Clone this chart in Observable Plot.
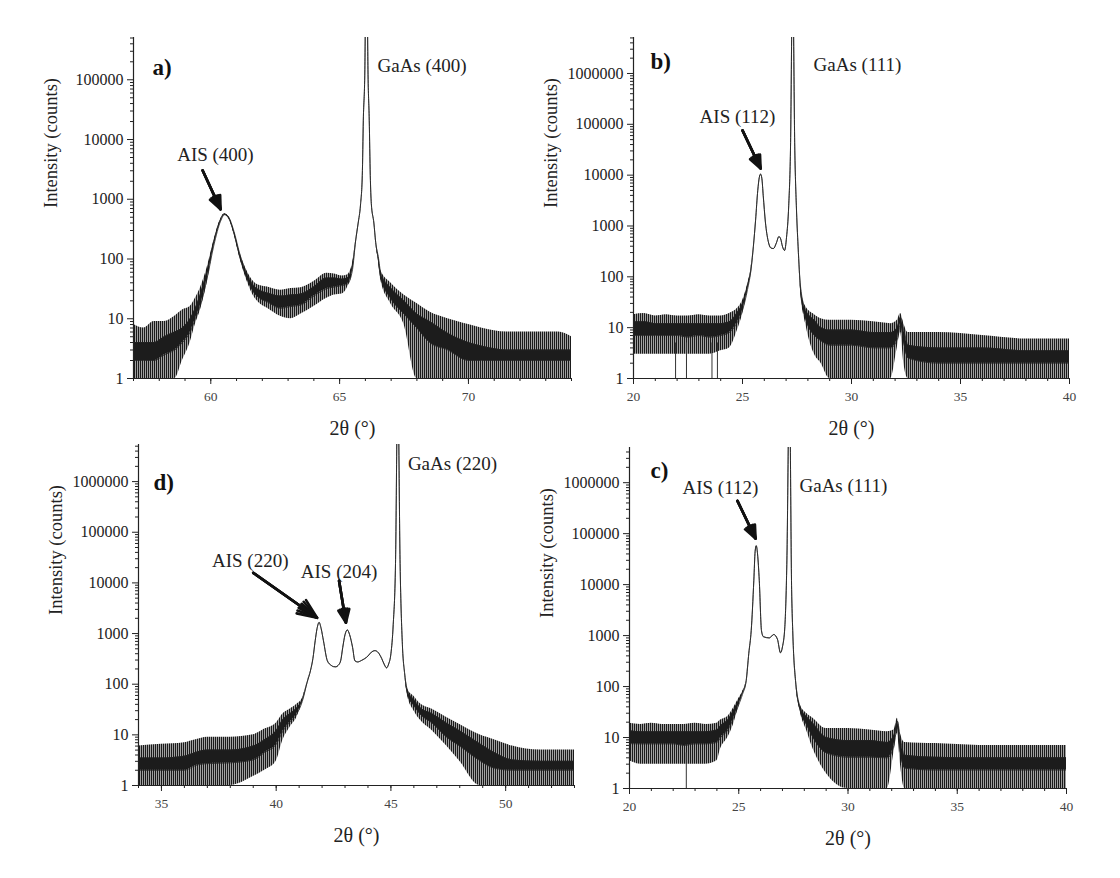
<!DOCTYPE html>
<html><head><meta charset="utf-8">
<script src="https://cdn.jsdelivr.net/npm/d3@7"></script>
<script src="https://cdn.jsdelivr.net/npm/@observablehq/plot@0.6"></script>
<style>
body{margin:0;background:#fff;}
#wrap{position:relative;width:1120px;height:878px;background:#fff;overflow:hidden;}
.panel{position:absolute;}
</style></head><body>
<svg width="0" height="0" style="position:absolute"><defs>
<pattern id="noise" patternUnits="userSpaceOnUse" width="2" height="8">
<rect x="0" y="0" width="1" height="8" fill="#1a1a1a"/>
<rect x="1" y="0" width="1" height="8" fill="#a0a0a0"/>
</pattern></defs></svg>
<div id="wrap"></div>
<script>
// ---------- Panel a) : 2θ scan around GaAs (400) ----------
const aX     = [57.0,57.4,57.8,58.2,58.6,58.9,59.2,59.4,59.6,59.86,60.12,60.38,60.53,60.7,60.88,61.15,61.43,61.66,61.9,62.2,62.7,63.1,63.5,64.0,64.5,64.8,65.1,65.3,65.5,65.62,65.72,65.81,65.88,65.92,65.98,66.04,66.10,66.15,66.19,66.23,66.33,66.4,66.5,66.6,66.98,67.5,68.0,68.5,69.2,70.0,70.5,71.5,72.5,73.5,74.0];
const aMin   = [1,1,1,1,1,2,4,8,14,40,160,420,545,470,280,95,40,24,18,15,11,10,12,16,22,25,26,33,60,200,400,800,2500,21000,150000,1e8,150000,21000,2500,850,400,190,95,44,18,8,1,1,1,1,1,1,1,1,1];
const aLo    = [2,2,2,2.5,3,4,6,10,17,48,170,430,550,480,290,100,44,28,22,19,15,16,17,24,32,34,36,38,66,200,400,800,2500,21000,150000,1e8,150000,21000,2500,850,400,190,100,48,22,12,7,4,3,2,2,2,2,2,2];
const aHi    = [4,4,4,5,6,7,10,15,26,64,195,455,566,500,310,112,54,36,30,27,24,25,26,34,48,48,46,48,78,200,400,800,2500,21000,150000,1e8,150000,21000,2500,850,400,190,110,58,33,20,12,9,5.7,4,3.5,3,3,3,3];
const aMax   = [8,7,9,9,11,14,16,22,33,72,205,465,572,510,320,120,60,42,36,34,30,32,33,42,58,56,52,54,84,200,400,800,2500,21000,150000,1e8,150000,21000,2500,850,400,190,115,64,40,25,18,13,10,8,7,6,6,6,5];
const aNoteText = ["a)", "GaAs (400)", "AIS (400)"];
const aNoteX    = [57.74, 66.47, 60.18];
const aNoteY    = [1.6e5, 1.68e5, 5430];
const aArrX1 = [59.68], aArrY1 = [3050], aArrX2 = [60.38], aArrY2 = [677];

// ---------- Panel b) : GaAs (111) region ----------
const bX     = [20.0,20.5,21.0,21.5,22.0,22.5,23.0,23.5,24.0,24.4,24.77,25.0,25.23,25.4,25.5,25.6,25.7,25.77,25.83,25.89,25.95,26.05,26.18,26.3,26.42,26.55,26.67,26.75,26.83,26.93,27.02,27.12,27.2,27.3,27.4,27.47,27.55,27.66,27.9,28.3,28.6,29.0,30.0,31.0,31.8,32.1,32.25,32.4,32.6,34.0,36.0,38.0,40.0];
const bMin   = [3,3,3,3,3,3,3,3,3.5,4,9,18,52,145,400,1300,5000,9000,10500,8500,4000,1200,500,370,360,460,620,560,400,330,600,2500,30000,1e8,30000,2500,400,55,12,3,2,1,1,1,1,4,8,2,1,1,1,1,1];
const bLo    = [7,7,7,7,7,6.5,7,6.5,7,8,13,22,56,148,400,1300,5000,9000,10500,8500,4000,1200,500,370,360,460,620,560,400,330,600,2500,30000,1e8,30000,2500,400,58,15,7,5.5,4.5,4.5,4,4,6,12,5,2.5,2,2,2,2];
const bHi    = [13,13,12,12,12,12,12,12,12,13,20,30,66,155,400,1300,5000,9000,10500,8500,4000,1200,500,370,360,460,620,560,400,330,600,2500,30000,1e8,30000,2500,400,66,22,14,10,9,9,8,8,10,16,9,4.5,4,4,3.5,3.5];
const bMax   = [18,19,17,18,17,17,18,17,17,19,24,34,70,158,400,1300,5000,9000,10500,8500,4000,1200,500,370,360,460,620,560,400,330,600,2500,30000,1e8,30000,2500,400,70,26,18,15,14,14,13,12,14,19,12,8,8,7,6,6];
const bSpikeX = [21.93, 22.43, 23.6, 23.85];
const bNoteText = ["b)", "GaAs (111)", "AIS (112)"];
const bNoteX    = [20.78, 28.26, 24.77];
const bNoteY    = [1.74e6, 1.5e6, 1.37e5];
const bArrX1 = [25.0], bArrY1 = [7.6e4], bArrX2 = [25.83], bArrY2 = [1.35e4];

// ---------- Panel d) : GaAs (220) region ----------
const dX     = [34.0,35.0,36.0,36.5,37.0,38.0,39.0,39.5,40.0,40.3,40.6,40.9,41.14,41.35,41.5,41.6,41.7,41.78,41.87,41.96,42.06,42.23,42.4,42.5,42.6,42.7,42.81,42.9,43.0,43.1,43.2,43.33,43.43,43.55,43.72,44.0,44.15,44.3,44.45,44.6,44.72,44.81,44.9,45.0,45.1,45.2,45.3,45.4,45.5,45.6,45.74,46.0,46.26,46.8,47.43,48.0,48.87,49.5,50.3,51.5,53.0];
const dMin   = [1,1,1,1,1,1,1.5,2,3,8,14,22,44,110,190,320,720,1250,1660,1250,720,290,235,222,220,235,290,530,950,1180,950,530,290,275,295,360,430,460,420,320,240,210,250,400,1500,24000,1e8,24000,600,160,55,30,20,12,6,3,1,1,1,1,1];
const dLo    = [2,2,2,2.5,2.7,2.8,3.2,4.5,6.5,12,18,26,46,110,190,320,720,1250,1660,1250,720,290,235,222,220,235,290,530,950,1180,950,530,290,275,295,360,430,460,420,320,240,210,250,400,1500,24000,1e8,24000,600,160,60,38,26,17,9,6,3.1,2.2,2,2,2];
const dHi    = [3.5,3.5,3.8,4.5,5,5,6,8,12,20,26,34,50,110,190,320,720,1250,1660,1250,720,290,235,222,220,235,290,530,950,1180,950,530,290,275,295,360,430,460,420,320,240,210,250,400,1500,24000,1e8,24000,600,160,72,50,35,26,17,12,6.7,4.5,3.2,3,3];
const dMax   = [6,6.5,7,8,9,9,10,13,17,26,32,40,52,110,190,320,720,1250,1660,1250,720,290,235,222,220,235,290,530,950,1180,950,530,290,275,295,360,430,460,420,320,240,210,250,400,1500,24000,1e8,24000,600,160,78,58,42,32,22,16,10,8,6,5,5];
const dNoteText = ["d)", "GaAs (220)", "AIS (220)", "AIS (204)"];
const dNoteX    = [34.65, 45.74, 38.87, 42.74];
const dNoteY    = [9.5e5, 2.24e6, 2.75e4, 1.66e4];
const dArrX1 = [39.0, 42.74], dArrY1 = [1.58e4, 1.1e4], dArrX2 = [41.78, 43.04], dArrY2 = [2050, 1640];

// ---------- Panel c) : GaAs (111) region ----------
const cX     = [20.0,20.5,21.0,21.5,22.0,22.5,23.0,23.5,24.0,24.17,24.5,24.76,25.0,25.17,25.34,25.46,25.57,25.69,25.75,25.8,25.86,25.94,26.04,26.13,26.4,26.6,26.77,26.91,27.0,27.11,27.2,27.32,27.42,27.47,27.6,27.83,28.1,28.4,29.0,30.0,31.0,31.8,32.1,32.26,32.4,32.6,34.0,36.0,38.0,40.0];
const cMin   = [3.5,3,3,3,3,3,3,3,3.5,6,10,18,40,68,130,450,1250,12000,45000,58000,40000,12000,1250,950,900,1050,850,460,600,1500,25000,1e8,8000,1250,130,30,14,6,2,1,1,1,5,12,3,1,1,1,1,1];
const cLo    = [7.6,7.5,7.5,7.5,7.5,7,7.5,7.5,8,10,14,24,44,70,130,450,1250,12000,45000,58000,40000,12000,1250,950,900,1050,850,460,600,1500,25000,1e8,8000,1250,130,32,18,10,5,4.1,4.1,4,7,16,5,2.5,2.3,2.3,2.3,2.3];
const cHi    = [13.6,13,13,13,13,13,13,13,14,17,22,34,54,76,130,450,1250,12000,45000,58000,40000,12000,1250,950,900,1050,850,460,600,1500,25000,1e8,8000,1250,130,38,26,19,10,8.7,8.7,8,11,21,9,4.5,4.1,4,4,4];
const cMax   = [19,18,19,18,18,18,19,18,19,22,26,38,58,78,130,450,1250,12000,45000,58000,40000,12000,1250,950,900,1050,850,460,600,1500,25000,1e8,8000,1250,130,42,30,24,15,15,14,13,14,24,12,8,7.6,7,7,7];
const cSpikeX = [22.6];
const cNoteText = ["c)", "GaAs (111)", "AIS (112)"];
const cNoteX    = [20.96, 27.78, 24.16];
const cNoteY    = [1.7e6, 8.7e5, 7.9e5];
const cArrX1 = [24.94], cArrY1 = [4.4e5], cArrX2 = [25.77], cArrY2 = [8.0e4];

// ---------- Axis ticks ----------
const yMajorTicks = [1, 10, 100, 1000, 10000, 100000, 1000000];
const aXTicks = [60, 65, 70];
const bXTicks = [20, 25, 30, 35, 40];
const dXTicks = [35, 40, 45, 50];
const cXTicks = [20, 25, 30, 35, 40];
const xLabel = "2θ (°)";
const yLabel = "Intensity (counts)";

const FONT = "'Liberation Serif', 'DejaVu Serif', serif";
const CURVE = "monotone-x";

function panel(o) {
  const rows = o.X.map((x, i) => ({x, min: o.Min[i], lo: o.Lo[i], hi: o.Hi[i], max: o.Max[i]}));
  const yMinor = yMajorTicks.flatMap(d => [2,3,4,5,6,7,8,9].map(k => k * d)).filter(v => v < o.ydom[1]);
  const yMaj = yMajorTicks.filter(v => v <= o.ydom[1]);
  const xMinor = d3.range(Math.ceil(o.xdom[0]), Math.floor(o.xdom[1]) + 1);
  const notes = o.noteText.map((t, i) => ({t, x: o.noteX[i], y: o.noteY[i]}));
  const arrows = o.arrX1.map((x1, i) => ({x1, y1: o.arrY1[i], x2: o.arrX2[i], y2: o.arrY2[i]}));
  const spikes = (o.spikes || []).map(x => ({x}));
  const marks = [
    Plot.areaY(rows, {x: "x", y1: "min", y2: "max", fill: "url(#noise)", curve: CURVE, clip: true}),
    Plot.ruleX(spikes, {x: "x", y1: 1, y2: 5, stroke: "#333", strokeWidth: 1, clip: true}),
    Plot.areaY(rows, {x: "x", y1: "lo", y2: "hi", fill: "#1c1c1c", curve: CURVE, clip: true}),
    Plot.line(rows, {x: "x", y: "lo", stroke: "#222", strokeWidth: 0.8, curve: CURVE, clip: true}),
    Plot.line(rows, {x: "x", y: "hi", stroke: "#222", strokeWidth: 0.8, curve: CURVE, clip: true}),
    Plot.ruleX([o.xdom[0]], {stroke: "#222", strokeWidth: 1.2}),
    Plot.ruleY([o.ydom[0]], {stroke: "#222", strokeWidth: 1.2}),
    Plot.axisY({ticks: yMaj, tickSize: 6, tickPadding: 4, tickFormat: d => String(d), fontSize: 16, label: null}),
    Plot.axisY({ticks: yMinor, tickSize: 3, tickFormat: () => "", label: null}),
    Plot.axisX({ticks: o.xTicks, tickSize: 6, tickPadding: 7, tickFormat: d => String(d), fontSize: 13.5, fill: "#444", label: null}),
    Plot.axisX({ticks: xMinor, tickSize: 3, tickFormat: () => "", label: null}),
    Plot.text([xLabel], {frameAnchor: "bottom", lineAnchor: "middle", dy: 50, fontSize: 20, fill: "#222"}),
    Plot.text([yLabel], {frameAnchor: "left", dx: -82, rotate: -90, fontSize: 18.5, fill: "#222"}),
    Plot.text(notes.slice(0, 1), {x: "x", y: "y", text: "t", textAnchor: "start", fontSize: 23, fontWeight: "bold", fill: "#111"}),
    Plot.text(notes.slice(1, 2), {x: "x", y: "y", text: "t", textAnchor: "start", fontSize: 19, fill: "#222"}),
    Plot.text(notes.slice(2), {x: "x", y: "y", text: "t", textAnchor: "middle", fontSize: 19, fill: "#222"}),
    ...[14, 30, 46].map(ha =>
      Plot.arrow(arrows, {x1: "x1", y1: "y1", x2: "x2", y2: "y2", stroke: "#111", strokeWidth: 2.6, headLength: 12, headAngle: ha}))
  ];
  const svg = Plot.plot({
    width: o.width, height: o.height,
    marginTop: o.mt, marginRight: o.mr, marginBottom: o.mb, marginLeft: o.ml,
    x: {domain: o.xdom},
    y: {type: "log", domain: o.ydom},
    style: {background: "transparent", fontFamily: FONT, color: "#222", overflow: "visible"},
    marks
  });
  const div = document.createElement("div");
  div.className = "panel";
  div.style.left = o.left + "px";
  div.style.top = o.top + "px";
  div.appendChild(svg);
  document.getElementById("wrap").appendChild(div);
}

panel({left: 0, top: 0, width: 580, height: 430, mt: 37, mr: 9, mb: 52, ml: 133,
  xdom: [57, 74], ydom: [1, 5.1e5], xTicks: aXTicks,
  X: aX, Min: aMin, Lo: aLo, Hi: aHi, Max: aMax,
  noteText: aNoteText, noteX: aNoteX, noteY: aNoteY,
  arrX1: aArrX1, arrY1: aArrY1, arrX2: aArrX2, arrY2: aArrY2});

panel({left: 500, top: 0, width: 580, height: 430, mt: 37, mr: 11, mb: 52, ml: 133,
  xdom: [20, 40], ydom: [1, 5.1e6], xTicks: bXTicks,
  X: bX, Min: bMin, Lo: bLo, Hi: bHi, Max: bMax, spikes: bSpikeX,
  noteText: bNoteText, noteX: bNoteX, noteY: bNoteY,
  arrX1: bArrX1, arrY1: bArrY1, arrX2: bArrX2, arrY2: bArrY2});

panel({left: 5, top: 408, width: 580, height: 430, mt: 36, mr: 11, mb: 53, ml: 133,
  xdom: [34, 53], ydom: [1, 5.4e6], xTicks: dXTicks,
  X: dX, Min: dMin, Lo: dLo, Hi: dHi, Max: dMax,
  noteText: dNoteText, noteX: dNoteX, noteY: dNoteY,
  arrX1: dArrX1, arrY1: dArrY1, arrX2: dArrX2, arrY2: dArrY2});

panel({left: 496, top: 408, width: 580, height: 430, mt: 39, mr: 10, mb: 50, ml: 133,
  xdom: [20, 40], ydom: [1, 4.9e6], xTicks: cXTicks,
  X: cX, Min: cMin, Lo: cLo, Hi: cHi, Max: cMax, spikes: cSpikeX,
  noteText: cNoteText, noteX: cNoteX, noteY: cNoteY,
  arrX1: cArrX1, arrY1: cArrY1, arrX2: cArrX2, arrY2: cArrY2});
</script>
</body></html>
